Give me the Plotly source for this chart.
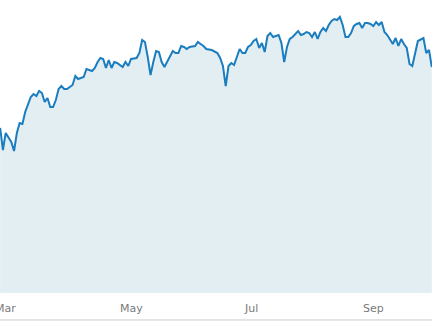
import plotly.graph_objects as go

dates = [
    "2021-02-25", "2021-02-26", "2021-03-01", "2021-03-02", "2021-03-03", "2021-03-04",
    "2021-03-05", "2021-03-08", "2021-03-09", "2021-03-10", "2021-03-11", "2021-03-12",
    "2021-03-15", "2021-03-16", "2021-03-17", "2021-03-18", "2021-03-19", "2021-03-22",
    "2021-03-23", "2021-03-24", "2021-03-25", "2021-03-26", "2021-03-29", "2021-03-30",
    "2021-03-31", "2021-04-02", "2021-04-05", "2021-04-06", "2021-04-08", "2021-04-09",
    "2021-04-13", "2021-04-14", "2021-04-15", "2021-04-16", "2021-04-19", "2021-04-20",
    "2021-04-21", "2021-04-22", "2021-04-23", "2021-04-26", "2021-04-28", "2021-04-29",
    "2021-04-30", "2021-05-03", "2021-05-05", "2021-05-06", "2021-05-07", "2021-05-10",
    "2021-05-11", "2021-05-12", "2021-05-13", "2021-05-14", "2021-05-17", "2021-05-18",
    "2021-05-19", "2021-05-20", "2021-05-24", "2021-05-25", "2021-05-26", "2021-05-27",
    "2021-05-28", "2021-05-31", "2021-06-01", "2021-06-03", "2021-06-04", "2021-06-07",
    "2021-06-08", "2021-06-09", "2021-06-11", "2021-06-15", "2021-06-16", "2021-06-17",
    "2021-06-18", "2021-06-21", "2021-06-22", "2021-06-23", "2021-06-24", "2021-06-25",
    "2021-06-28", "2021-06-29", "2021-06-30", "2021-07-01", "2021-07-02", "2021-07-05",
    "2021-07-06", "2021-07-07", "2021-07-08", "2021-07-09", "2021-07-12", "2021-07-13",
    "2021-07-14", "2021-07-15", "2021-07-16", "2021-07-19", "2021-07-20", "2021-07-21",
    "2021-07-22", "2021-07-26", "2021-07-27", "2021-07-28", "2021-07-29", "2021-07-30",
    "2021-08-02", "2021-08-03", "2021-08-04", "2021-08-05", "2021-08-06", "2021-08-09",
    "2021-08-10", "2021-08-11", "2021-08-12", "2021-08-13", "2021-08-16", "2021-08-17",
    "2021-08-18", "2021-08-19", "2021-08-20", "2021-08-23", "2021-08-24", "2021-08-25",
    "2021-08-26", "2021-08-27", "2021-08-30", "2021-08-31", "2021-09-01", "2021-09-02",
    "2021-09-03", "2021-09-06", "2021-09-07", "2021-09-08", "2021-09-10", "2021-09-13",
    "2021-09-14", "2021-09-15", "2021-09-16", "2021-09-17", "2021-09-20", "2021-09-21",
    "2021-09-23", "2021-09-27", "2021-09-28", "2021-09-29", "2021-09-30",
]

values = [
    165, 143, 160, 155, 151, 142,
    160, 170, 169, 181, 188, 196,
    199, 197, 202, 200, 191, 195,
    186, 186, 193, 204, 207, 204,
    204, 208, 217, 214, 216, 224,
    222, 225, 231, 235, 234, 225,
    233, 225, 231, 230, 226, 231,
    227, 234, 235, 240, 253, 251,
    236, 218, 231, 242, 241, 231,
    226, 231, 242, 240, 240, 247,
    246, 244, 246, 247, 251, 249,
    247, 244, 243, 240, 235, 227,
    207, 227, 230, 228, 236, 244,
    240, 240, 246, 248, 252, 254,
    245, 250, 241, 257, 260, 256,
    257, 258, 250, 231, 246, 254,
    256, 262, 258, 259, 261, 260,
    256, 261, 254, 261, 265, 262,
    268, 272, 274, 273, 276, 268,
    256, 256, 260, 267, 269, 270,
    265, 270, 270, 269, 267, 271,
    268, 271, 261, 258, 249, 255,
    247, 254, 249, 245, 229, 227,
    252, 255, 240, 243, 226,
]

tick_dates = ["2021-03-01", "2021-05-03", "2021-07-01", "2021-09-01"]
tick_labels = ["Mar", "May", "Jul", "Sep"]

fig = go.Figure()
fig.add_trace(go.Scatter(
    x=dates,
    y=values,
    mode="lines",
    line=dict(color="#1a7dbf", width=2),
    fill="tozeroy",
    fillcolor="#e3eef3",
    hoverinfo="skip",
))

annotations = [
    dict(
        x=d, y=-0.0512, xref="x", yref="paper",
        text=t, showarrow=False,
        xanchor="center", yanchor="middle",
        font=dict(family="DejaVu Sans", size=11, color="#7a7a7a"),
    )
    for d, t in zip(tick_dates, tick_labels)
]

fig.update_layout(
    width=432,
    height=324,
    margin=dict(l=0, r=0, t=0, b=31),
    paper_bgcolor="white",
    plot_bgcolor="white",
    showlegend=False,
    xaxis=dict(
        type="date",
        range=["2021-02-24 22:48", "2021-09-30 01:40"],
        rangebreaks=[dict(bounds=["sat", "mon"])],
        showticklabels=False,
        showgrid=False,
        zeroline=False,
        showline=False,
        ticks="",
    ),
    yaxis=dict(
        range=[0, 293],
        visible=False,
        showgrid=False,
        zeroline=False,
    ),
    annotations=annotations,
    shapes=[dict(
        type="line", xref="paper", yref="paper",
        x0=0, x1=1, y0=-0.092, y1=-0.092,
        line=dict(color="#cccccc", width=1),
    )],
)

fig.write_html("out.html")
